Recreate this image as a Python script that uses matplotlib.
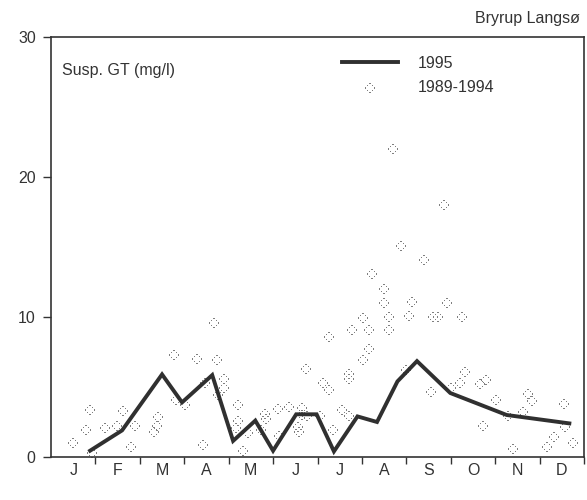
import matplotlib
matplotlib.use("Agg")
import matplotlib.pyplot as plt
import numpy as np
from matplotlib.path import Path

plt.rcParams['font.family'] = ['Liberation Sans', 'DejaVu Sans']

# x = month (0 = 1 Jan, 12 = 31 Dec), y = mg/l
months = ['J', 'F', 'M', 'A', 'M', 'J', 'J', 'A', 'S', 'O', 'N', 'D']

x_1995 = [0.88, 1.6, 2.5, 2.95, 3.63, 4.1, 4.6, 5.0, 5.52, 5.98, 6.37, 6.9, 7.34, 7.8, 8.24, 8.99, 10.26, 11.67]
y_1995 = [0.45, 1.9, 5.9, 3.9, 5.85, 1.15, 2.6, 0.45, 3.05, 3.05, 0.4, 2.9, 2.5, 5.4, 6.85, 4.57, 3.0, 2.4]

x_8994 = [0.49, 0.78, 0.88, 0.92, 1.22, 1.48, 1.61, 1.8, 1.89, 2.32, 2.39, 2.41,
          2.78, 2.82, 3.02, 3.28, 3.43, 3.47, 3.68, 3.73, 3.75, 3.9, 3.9,
          4.22, 4.2, 4.17, 4.33, 4.44, 4.73, 4.82, 4.85, 5.12, 5.14, 5.36,
          5.57, 5.58, 5.66, 5.74, 5.65, 5.76, 6.06, 6.13, 6.27, 6.27, 6.34,
          6.55, 6.72, 6.72, 6.72, 6.77, 7.02, 7.02, 7.16, 7.17, 7.22, 7.49,
          7.5, 7.6, 7.6, 7.71, 7.88, 8.0, 8.07, 8.12, 8.4, 8.56, 8.61, 8.72,
          8.84, 8.91, 9.0, 9.2, 9.32, 9.25, 9.66, 9.8, 9.72, 10.02, 10.3,
          10.41, 10.62, 10.73, 10.83, 11.16, 11.33, 11.54, 11.58, 11.75]
y_8994 = [1.0, 1.9, 3.35, 0.3, 2.1, 2.25, 3.3, 0.75, 2.25, 1.8, 2.2, 2.85,
          7.3, 4.05, 3.7, 7.0, 0.85, 5.3, 9.6, 6.9, 4.4, 5.6, 4.9,
          3.7, 2.6, 2.05, 0.4, 1.7, 1.95, 3.1, 2.7, 3.4, 1.5, 3.6,
          2.15, 1.8, 3.5, 6.3, 3.0, 2.9, 2.9, 5.3, 4.8, 8.6, 1.95,
          3.35, 5.95, 5.6, 2.95, 9.1, 9.95, 6.9, 9.1, 7.75, 13.05, 12.0,
          11.0, 10.0, 9.1, 22.0, 15.1, 6.2, 10.05, 11.05, 14.05, 4.65, 10.0, 10.0,
          18.0, 11.0, 4.9, 5.3, 6.1, 10.0, 5.25, 5.5, 2.2, 4.05, 2.9,
          0.6, 3.25, 4.5, 4.0, 0.75, 1.4, 3.8, 2.15, 1.0]


def dot_marker():
    # ring of small dots, like the screen-printed symbol
    pts = [(0, 1), (0.55, 0.55), (1, 0), (0.55, -0.55), (0, -1), (-0.55, -0.55), (-1, 0), (-0.55, 0.55)]
    s = 0.17
    verts, codes = [], []
    for cx, cy in pts:
        verts += [(cx - s, cy - s), (cx + s, cy - s), (cx + s, cy + s), (cx - s, cy + s), (cx - s, cy - s)]
        codes += [Path.MOVETO, Path.LINETO, Path.LINETO, Path.LINETO, Path.CLOSEPOLY]
    return Path(verts, codes)


txt = '#333333'
fig = plt.figure(figsize=(5.87, 5.0), dpi=100)
ax = fig.add_axes([51 / 587, 43 / 500, 533 / 587, 420 / 500])

sc = ax.scatter(x_8994, y_8994, marker=dot_marker(), s=55, color='#808080', linewidths=0,
                label='1989-1994', zorder=2)
ln, = ax.plot(x_1995, y_1995, color='#303030', lw=2.8, solid_joinstyle='miter', label='1995', zorder=3)

ax.set_xlim(0, 12)
ax.set_ylim(0, 30)
ax.set_yticks([0, 10, 20, 30])
ax.tick_params(axis='y', length=6, width=1, colors=txt, labelsize=11.5, pad=5)
ax.set_xticks(np.arange(12) + 0.5)
ax.set_xticklabels(months)
ax.set_xticks(np.arange(1, 13), minor=True)
ax.tick_params(axis='x', which='major', length=0, colors=txt, labelsize=11.5, pad=4)
ax.tick_params(axis='x', which='minor', length=5, width=1, color=txt)
for sp in ax.spines.values():
    sp.set_color(txt)
    sp.set_linewidth(1.2)

ax.text(0.02, 0.91, 'Susp. GT (mg/l)', transform=ax.transAxes, fontsize=11.5, color=txt)
fig.text(580 / 587, 1 - 18 / 500, 'Bryrup Langsø', ha='right', va='center', fontsize=11.5, color=txt)

leg = ax.legend([ln, sc], ['1995', '1989-1994'], loc='upper left', bbox_to_anchor=(0.546, 0.955),
                frameon=False, fontsize=11.5, handlelength=3.5, handletextpad=1.25,
                borderpad=0, borderaxespad=0, labelspacing=0.6)
for t in leg.get_texts():
    t.set_color(txt)

fig.savefig('out.png', dpi=100)
